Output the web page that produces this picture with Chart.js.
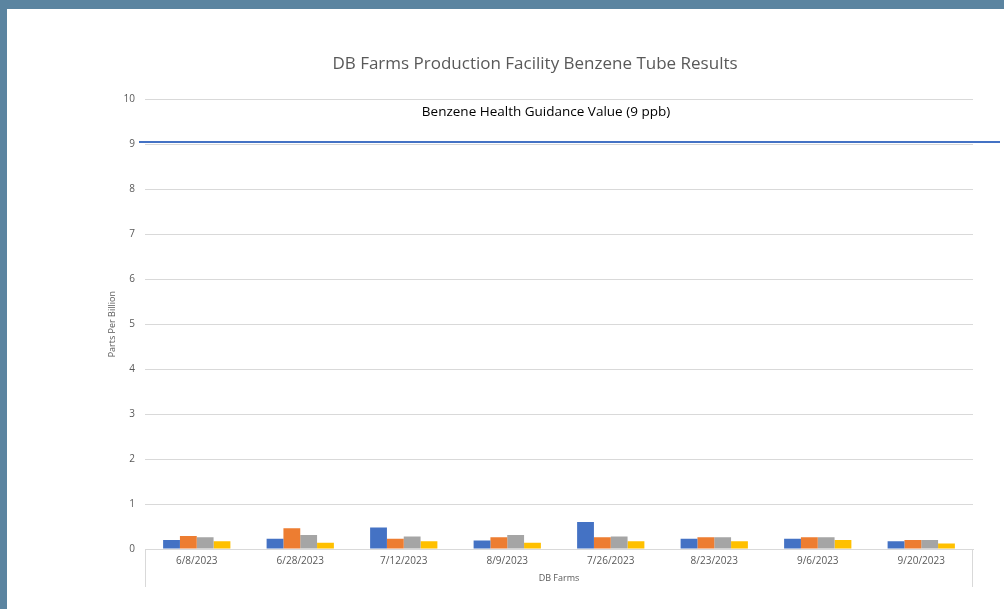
<!DOCTYPE html>
<html>
<head>
<meta charset="utf-8">
<script src="https://cdn.jsdelivr.net/npm/chart.js@4.4.0/dist/chart.umd.min.js"></script>
<style>
    html, body { margin: 0; padding: 0; background: #5b84a0; width: 1004px; height: 609px; overflow: hidden; }
    #wrap { position: absolute; left: 7px; top: 9px; width: 997px; height: 600px; background: #ffffff; }
</style>
</head>
<body>
<div id="wrap"><canvas id="myChart" width="997" height="600"></canvas></div>
<script>
const dates = ['6/8/2023', '6/28/2023', '7/12/2023', '8/9/2023', '7/26/2023', '8/23/2023', '9/6/2023', '9/20/2023'];
const tube1 = [0.20, 0.23, 0.48, 0.19, 0.60, 0.23, 0.23, 0.17];
const tube2 = [0.29, 0.46, 0.23, 0.26, 0.26, 0.26, 0.26, 0.20];
const tube3 = [0.26, 0.31, 0.28, 0.31, 0.28, 0.26, 0.26, 0.20];
const tube4 = [0.17, 0.14, 0.17, 0.14, 0.17, 0.17, 0.20, 0.12];
const yTicks = [0, 1, 2, 3, 4, 5, 6, 7, 8, 9, 10];
const guidanceValue = 9.05;
const guidanceLabel = 'Benzene Health Guidance Value (9 ppb)';

const font = "'Open Sans', 'Noto Sans', sans-serif";

// guidance line + label, and the box lines below the category axis
const extras = {
    id: 'extras',
    afterDatasetsDraw(chart) {
        const ctx = chart.ctx;
        const area = chart.chartArea;
        const y = chart.scales.y;
        const yLine = y.getPixelForValue(guidanceValue);

        ctx.save();
        ctx.strokeStyle = '#4472c4';
        ctx.lineWidth = 2;
        ctx.beginPath();
        ctx.moveTo(area.left - 6, yLine);
        ctx.lineTo(chart.width - 4, yLine);
        ctx.stroke();

        ctx.fillStyle = '#000000';
        ctx.font = '13.5px ' + font;
        ctx.textAlign = 'center';
        ctx.textBaseline = 'middle';
        ctx.fillText(guidanceLabel, (area.left + area.right) / 2 - 13, y.getPixelForValue(9.72));

        ctx.strokeStyle = '#d9d9d9';
        ctx.lineWidth = 1;
        ctx.beginPath();
        ctx.moveTo(area.left + 0.5, area.bottom);
        ctx.lineTo(area.left + 0.5, area.bottom + 38);
        ctx.moveTo(area.right - 0.5, area.bottom);
        ctx.lineTo(area.right - 0.5, area.bottom + 38);
        ctx.stroke();
        ctx.restore();
    }
};

new Chart(document.getElementById('myChart').getContext('2d'), {
    type: 'bar',
    data: {
        labels: dates,
        datasets: [
            { label: 'Tube 1', data: tube1, backgroundColor: '#4472c4' },
            { label: 'Tube 2', data: tube2, backgroundColor: '#ed7d31' },
            { label: 'Tube 3', data: tube3, backgroundColor: '#a5a5a5' },
            { label: 'Tube 4', data: tube4, backgroundColor: '#ffc000' }
        ]
    },
    options: {
        responsive: false,
        animation: false,
        layout: { padding: { left: 90, right: 31, top: 0, bottom: 0 } },
        datasets: { bar: { categoryPercentage: 0.65, barPercentage: 1.0 } },
        plugins: {
            legend: { display: false },
            tooltip: { enabled: false },
            title: {
                display: true,
                text: 'DB Farms Production Facility Benzene Tube Results',
                color: '#595959',
                font: { family: font, size: 17, weight: 'normal' },
                padding: { top: 45, bottom: 25 }
            }
        },
        scales: {
            x: {
                grid: { display: false, drawTicks: false },
                border: { display: true, color: '#d9d9d9' },
                ticks: { color: '#595959', font: { family: font, size: 10 }, padding: 6, maxRotation: 0 },
                title: {
                    display: true, text: 'DB Farms', color: '#595959',
                    font: { family: font, size: 9 }, padding: { top: 0, bottom: 25 }
                },
                afterFit(s) { s.height = 60; }
            },
            y: {
                min: 0,
                max: 10,
                afterBuildTicks(s) { s.ticks = yTicks.map(v => ({ value: v })); },
                grid: { color: '#d9d9d9', drawTicks: false },
                border: { display: false },
                ticks: { color: '#595959', font: { family: font, size: 10 }, padding: 10 },
                title: {
                    display: true, text: 'Parts Per Billion', color: '#595959',
                    font: { family: font, size: 9 }, padding: { top: 10, bottom: 0 }
                },
                afterFit(s) { s.width = 48; }
            }
        }
    },
    plugins: [extras]
});
</script>
</body>
</html>
